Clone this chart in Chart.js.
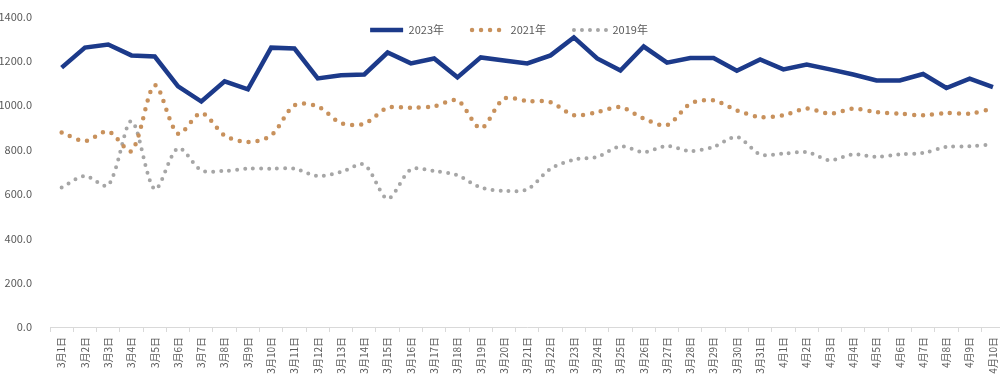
<!DOCTYPE html>
<html>
<head>
<meta charset="utf-8">
<script src="https://cdn.jsdelivr.net/npm/chart.js@4/dist/chart.umd.min.js"></script>
<style>
  html, body { margin: 0; padding: 0; background: #fff; overflow: hidden; }
  #wrap { position: relative; width: 1010px; height: 389px; }
</style>
</head>
<body>
<div id="wrap"><canvas id="myChart" width="1010" height="389"></canvas></div>
<script>
var days = ["3月1日","3月2日","3月3日","3月4日","3月5日","3月6日","3月7日","3月8日","3月9日","3月10日",
  "3月11日","3月12日","3月13日","3月14日","3月15日","3月16日","3月17日","3月18日","3月19日","3月20日",
  "3月21日","3月22日","3月23日","3月24日","3月25日","3月26日","3月27日","3月28日","3月29日","3月30日",
  "3月31日","4月1日","4月2日","4月3日","4月4日","4月5日","4月6日","4月7日","4月8日","4月9日","4月10日"];

var y2023 = [1170,1260,1274,1225,1220,1085,1017,1108,1072,1260,
  1256,1121,1135,1139,1238,1189,1211,1126,1216,1202,
  1189,1225,1306,1211,1157,1265,1192,1213,1213,1156,
  1207,1162,1184,1162,1139,1112,1112,1141,1078,1120,1082];

var y2021 = [877,839,882,794,1090,872,965,864,834,864,
  1000,995,920,917,989,989,995,1022,897,1030,
  1019,1014,955,969,992,940,910,1007,1022,977,
  947,955,985,962,985,969,962,955,965,962,985];

var y2019 = [629,681,639,929,621,807,707,704,714,714,
  714,681,699,732,579,710,704,684,629,614,
  621,714,755,767,815,789,816,794,812,857,
  779,782,789,752,779,767,779,785,812,815,824];

var yTicks = [0,200,400,600,800,1000,1200,1400];

var fontFam = "'Noto Sans CJK SC', 'Noto Sans', sans-serif";
var grey = "#595959";

// legend sits inside the plot area like in excel
var legendInside = {
  id: "legendInside",
  beforeInit: function(chart){
    var lg = chart.legend;
    var fit = lg.fit;
    lg.fit = function(){
      fit.bind(lg)();
      this.height = 0;
    };
    lg.draw = function(){
      if (!this.options.display) return;
      var ctx = this.ctx;
      ctx.save();
      ctx.translate(6, -20);
      this._draw();
      ctx.restore();
    };
  }
};

new Chart("myChart", {
  type: "line",
  data: {
    labels: days,
    datasets: [{
      label: "2023年",
      data: y2023,
      borderColor: "#1c3a8a",
      backgroundColor: "#1c3a8a",
      borderWidth: 4.5,
      pointRadius: 0,
      tension: 0
    }, {
      label: "2021年",
      data: y2021,
      borderColor: "#c8915c",
      backgroundColor: "#c8915c",
      borderWidth: 4.5,
      borderDash: [0, 9],
      borderCapStyle: "round",
      pointRadius: 0,
      tension: 0.3
    }, {
      label: "2019年",
      data: y2019,
      borderColor: "#a6a6a6",
      backgroundColor: "#a6a6a6",
      borderWidth: 4,
      borderDash: [0, 8],
      borderCapStyle: "round",
      pointRadius: 0,
      tension: 0.3
    }]
  },
  options: {
    responsive: false,
    animation: false,
    layout: { padding: { top: 16, left: 0, right: 4, bottom: 0 } },
    plugins: {
      legend: {
        display: true,
        position: "top",
        labels: {
          usePointStyle: true,
          pointStyle: "line",
          pointStyleWidth: 33,
          boxHeight: 6,
          padding: 28,
          color: grey,
          font: { family: fontFam, size: 11 },
          generateLabels: function(chart){
            var items = Chart.defaults.plugins.legend.labels.generateLabels(chart);
            items.forEach(function(it){
              var ds = chart.data.datasets[it.datasetIndex];
              it.lineDash = ds.borderDash || [];
              it.lineCap = ds.borderCapStyle || "butt";
              it.lineWidth = ds.borderWidth;
            });
            return items;
          }
        }
      },
      tooltip: { enabled: false }
    },
    scales: {
      x: {
        offset: true,
        grid: { display: true, drawOnChartArea: false, drawTicks: true, tickLength: 5, color: "#d9d9d9", offset: true },
        border: { display: true, color: "#d9d9d9" },
        ticks: {
          autoSkip: false,
          minRotation: 90,
          maxRotation: 90,
          padding: 5,
          color: grey,
          font: { family: fontFam, size: 10 }
        },
        afterFit: function(scale){ scale.height = 62; }
      },
      y: {
        min: 0,
        max: 1400,
        afterBuildTicks: function(scale){
          scale.ticks = yTicks.map(function(v){ return { value: v }; });
        },
        grid: { display: false },
        border: { display: false },
        ticks: {
          padding: 10,
          color: grey,
          font: { family: fontFam, size: 11 },
          callback: function(v){ return Number(v).toFixed(1); }
        },
        afterFit: function(scale){ scale.width = 50; }
      }
    }
  },
  plugins: [legendInside]
});
</script>
</body>
</html>
